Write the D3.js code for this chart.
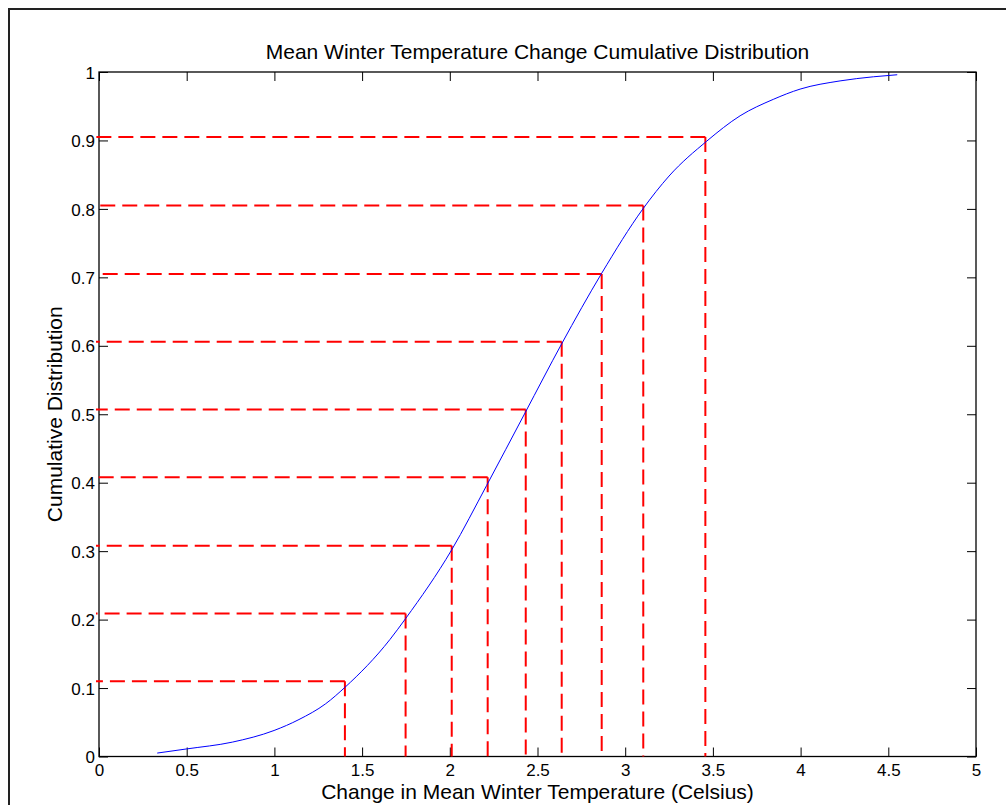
<!DOCTYPE html>
<html>
<head>
<meta charset="utf-8">
<script src="https://cdn.jsdelivr.net/npm/d3@7"></script>
<style>
  html, body { margin: 0; padding: 0; background: #fff; }
  svg { display: block; }
  text { font-family: "Liberation Sans", Arial, sans-serif; fill: #000; }
</style>
</head>
<body>
<script>
// ---- data ----
const curveX = [0.332, 0.498, 0.760, 0.998, 1.140, 1.292, 1.402, 1.659, 1.748, 2.011, 2.210, 2.429, 2.638, 2.866, 3.101, 3.250, 3.465, 3.655, 3.844, 3.997, 4.225, 4.415, 4.551];
const curveY = [0.005, 0.011, 0.021, 0.038, 0.054, 0.077, 0.101, 0.171, 0.2015, 0.302, 0.396, 0.502, 0.603, 0.706, 0.800, 0.848, 0.899, 0.936, 0.960, 0.975, 0.987, 0.993, 0.996];
const markX = [1.402, 1.748, 2.011, 2.216, 2.433, 2.638, 2.866, 3.103, 3.457];
const markY = [0.110, 0.209, 0.308, 0.408, 0.507, 0.606, 0.705, 0.805, 0.905];
const xTicks = [0, 0.5, 1, 1.5, 2, 2.5, 3, 3.5, 4, 4.5, 5];
const yTicks = [0, 0.1, 0.2, 0.3, 0.4, 0.5, 0.6, 0.7, 0.8, 0.9, 1];
const titleText = "Mean Winter Temperature Change Cumulative Distribution";
const xLabel = "Change in Mean Winter Temperature (Celsius)";
const yLabel = "Cumulative Distribution";

// ---- layout ----
const W = 1006, H = 805;
const L = 99, R = 976, T = 72, B = 756.5;

const svg = d3.select("body").append("svg").attr("width", W).attr("height", H);

// outer figure frame
svg.append("rect").attr("x", 9).attr("y", 9).attr("width", W + 20).attr("height", H + 20)
  .attr("fill", "none").attr("stroke", "#222").attr("stroke-width", 2);

const x = d3.scaleLinear().domain([0, 5]).range([L, R]);
const y = d3.scaleLinear().domain([0, 1]).range([B, T]);

const fmt = d => String(d);
const tickLen = 9;

// axes (ticks inward, mirrored)
const gx = svg.append("g").attr("transform", `translate(0,${B})`)
  .call(d3.axisBottom(x).tickValues(xTicks).tickFormat(fmt).tickSizeInner(-tickLen).tickSizeOuter(0).tickPadding(0));
const gxt = svg.append("g").attr("transform", `translate(0,${T})`)
  .call(d3.axisTop(x).tickValues(xTicks).tickFormat("").tickSizeInner(-tickLen).tickSizeOuter(0));
const gy = svg.append("g").attr("transform", `translate(${L},0)`)
  .call(d3.axisLeft(y).tickValues(yTicks).tickFormat(fmt).tickSizeInner(-tickLen).tickSizeOuter(0).tickPadding(0));
const gyr = svg.append("g").attr("transform", `translate(${R},0)`)
  .call(d3.axisRight(y).tickValues(yTicks).tickFormat("").tickSizeInner(-tickLen).tickSizeOuter(0));

[gx, gxt, gy, gyr].forEach(g => {
  g.select(".domain").remove();
  g.selectAll(".tick line").attr("stroke", "#000").attr("stroke-width", 1);
  g.selectAll(".tick text").attr("font-size", 17).attr("fill", "#000")
    .style("font-family", '"Liberation Sans", Arial, sans-serif');
});
gx.selectAll(".tick text").attr("y", 0).attr("dy", null).attr("transform", "translate(0,19.5)");
gy.selectAll(".tick text").attr("x", -4).attr("dy", "0.36em");

// box
svg.append("rect").attr("x", L).attr("y", T).attr("width", R - L).attr("height", B - T)
  .attr("fill", "none").attr("stroke", "#000").attr("stroke-width", 1.3);

// red dashed guide lines (drawn from the curve point outward)
const guides = svg.append("g").attr("fill", "none").attr("stroke", "#ff0000")
  .attr("stroke-width", 2).attr("stroke-dasharray", "15,7");
markX.forEach((mx, i) => {
  const my = markY[i];
  guides.append("line").attr("x1", x(mx)).attr("y1", y(my)).attr("x2", x(0) - 3).attr("y2", y(my));
  guides.append("line").attr("x1", x(mx)).attr("y1", y(my)).attr("x2", x(mx)).attr("y2", y(0));
});

// blue curve
const pts = curveX.map((v, i) => [v, curveY[i]]);
svg.append("path").datum(pts)
  .attr("fill", "none").attr("stroke", "#0000ff").attr("stroke-width", 1)
  .attr("d", d3.line().x(d => x(d[0])).y(d => y(d[1])).curve(d3.curveMonotoneX));

// title & labels
svg.append("text").attr("x", (L + R) / 2).attr("y", 59).attr("text-anchor", "middle")
  .attr("font-size", 21).text(titleText);
svg.append("text").attr("x", (L + R) / 2).attr("y", 799).attr("text-anchor", "middle")
  .attr("font-size", 21).text(xLabel);
svg.append("text").attr("transform", `translate(61.5,${(T + B) / 2}) rotate(-90)`)
  .attr("text-anchor", "middle").attr("font-size", 21).text(yLabel);
</script>
</body>
</html>
